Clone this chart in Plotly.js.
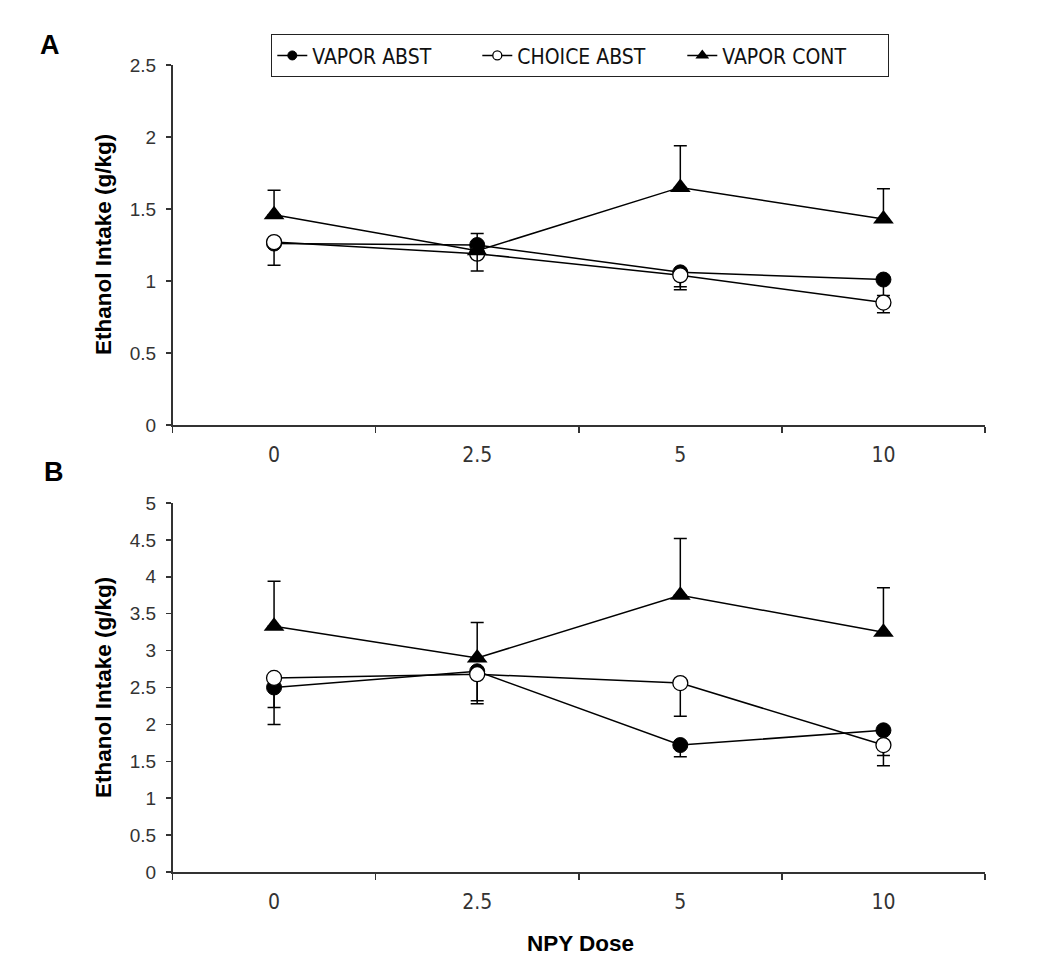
<!DOCTYPE html>
<html>
<head>
<meta charset="utf-8">
<script src="https://cdn.plot.ly/plotly-3.0.1.min.js"></script>
<style>html,body{margin:0;padding:0;background:#fff;}#chart{width:1050px;height:975px;}</style>
</head>
<body>
<div id="chart"></div>
<script>
// ---- data ----
const doses = ['0', '2.5', '5', '10'];
const seriesNames = ['VAPOR ABST', 'CHOICE ABST', 'VAPOR CONT'];

// Panel A
const aVaporAbst = [1.26, 1.25, 1.06, 1.01];
const aVaporAbstErrPlus = [0, 0.08, 0, 0];
const aVaporAbstErrMinus = [0, 0, 0.10, 0.11];
const aChoiceAbst = [1.27, 1.19, 1.04, 0.85];
const aChoiceAbstErrPlus = [0, 0, 0, 0];
const aChoiceAbstErrMinus = [0.16, 0, 0.10, 0.07];
const aVaporCont = [1.46, 1.21, 1.65, 1.43];
const aVaporContErrPlus = [0.17, 0, 0.29, 0.21];
const aVaporContErrMinus = [0, 0.14, 0, 0];

// Panel B
const bVaporAbst = [2.50, 2.72, 1.72, 1.92];
const bVaporAbstErrPlus = [0, 0, 0, 0];
const bVaporAbstErrMinus = [0.50, 0.40, 0.16, 0.34];
const bChoiceAbst = [2.63, 2.68, 2.56, 1.72];
const bChoiceAbstErrPlus = [0, 0, 0, 0];
const bChoiceAbstErrMinus = [0.40, 0.40, 0.45, 0.28];
const bVaporCont = [3.33, 2.90, 3.75, 3.25];
const bVaporContErrPlus = [0.61, 0.48, 0.77, 0.60];
const bVaporContErrMinus = [0, 0, 0, 0];

// ---- styles ----
const BLACK = '#000';
const markerStyles = [
  {symbol: 'circle', size: 15, color: BLACK, line: {color: BLACK, width: 1}},
  {symbol: 'circle', size: 15, color: '#fff', line: {color: BLACK, width: 1.3}},
  {symbol: 'triangle-up', size: 18, color: BLACK, line: {color: BLACK, width: 0}}
];

function series(y, plus, minus, idx, xa, ya) {
  return {
    type: 'scatter', mode: 'lines+markers',
    x: doses, y: y, xaxis: xa, yaxis: ya,
    name: seriesNames[idx], showlegend: false,
    line: {color: BLACK, width: 1.5},
    marker: markerStyles[idx],
    error_y: {type: 'data', symmetric: false, array: plus, arrayminus: minus,
              color: BLACK, thickness: 1.5, width: 6.5},
    cliponaxis: false
  };
}

const traces = [
  series(aVaporAbst, aVaporAbstErrPlus, aVaporAbstErrMinus, 0, 'x', 'y'),
  series(aChoiceAbst, aChoiceAbstErrPlus, aChoiceAbstErrMinus, 1, 'x', 'y'),
  series(aVaporCont, aVaporContErrPlus, aVaporContErrMinus, 2, 'x', 'y'),
  series(bVaporAbst, bVaporAbstErrPlus, bVaporAbstErrMinus, 0, 'x2', 'y2'),
  series(bChoiceAbst, bChoiceAbstErrPlus, bChoiceAbstErrMinus, 1, 'x2', 'y2'),
  series(bVaporCont, bVaporContErrPlus, bVaporContErrMinus, 2, 'x2', 'y2')
];

// legend entries (small symbols like the original key)
const legendSizes = [9, 9, 12];
seriesNames.forEach(function (nm, i) {
  traces.push({
    type: 'scatter', mode: 'lines+markers', x: [null], y: [null],
    xaxis: 'x', yaxis: 'y', name: nm, showlegend: true,
    line: {color: BLACK, width: 1.5},
    marker: Object.assign({}, markerStyles[i], {size: legendSizes[i]})
  });
});

const W = 1050, H = 975;
const xDom = [172.5 / W, 985 / W];
const FONT = 'Liberation Sans, Arial, sans-serif';
const yTickFont = {family: FONT, size: 19, color: '#333'};
const xTickFont = {family: 'DejaVu Sans Condensed, Liberation Sans, Arial, sans-serif', size: 21, color: '#333'};

function xAxis(anchor) {
  return {
    type: 'category', domain: xDom, anchor: anchor, range: [-0.5, 3.5],
    showgrid: false, zeroline: false, showline: true, linecolor: '#333', linewidth: 1.6,
    ticks: 'outside', tickson: 'boundaries', ticklen: 6, tickcolor: '#333', tickwidth: 1.5,
    tickfont: xTickFont, ticklabelstandoff: 10, fixedrange: true
  };
}
function yAxis(anchor, dom, range) {
  return {
    domain: dom, anchor: anchor, range: range, dtick: 0.5, tick0: 0,
    showgrid: false, zeroline: false, showline: true, linecolor: '#333', linewidth: 1.6,
    ticks: 'outside', ticklen: 5, tickcolor: '#333', tickwidth: 1.5,
    tickfont: yTickFont, ticklabelstandoff: 6, fixedrange: true
  };
}

const labelFont = {size: 22.5, family: FONT, color: '#000'};
const layout = {
  width: W, height: H,
  margin: {l: 0, r: 0, t: 0, b: 0},
  paper_bgcolor: '#fff', plot_bgcolor: '#fff',
  font: {family: FONT, color: '#000'},
  xaxis: xAxis('y'),
  yaxis: yAxis('x', [1 - 425 / H, 1 - 65 / H], [0, 2.5]),
  xaxis2: xAxis('y2'),
  yaxis2: yAxis('x2', [1 - 872 / H, 1 - 503 / H], [0, 5]),
  showlegend: true,
  legend: {
    orientation: 'h', x: 271 / W, xanchor: 'left', y: 1 - 34 / H, yanchor: 'top',
    bordercolor: '#222', borderwidth: 1.3, bgcolor: '#fff',
    font: {family: 'DejaVu Sans Condensed, Liberation Sans, Arial, sans-serif', size: 21, color: '#111'},
    entrywidth: 160, entrywidthmode: 'pixels', itemwidth: 30, tracegroupgap: 0
  },
  annotations: [
    {text: '<b>A</b>', xref: 'paper', yref: 'paper', x: 50 / W, y: 1 - 45 / H,
     xanchor: 'center', yanchor: 'middle', showarrow: false, font: {size: 27, family: FONT}},
    {text: '<b>B</b>', xref: 'paper', yref: 'paper', x: 54 / W, y: 1 - 472 / H,
     xanchor: 'center', yanchor: 'middle', showarrow: false, font: {size: 27, family: FONT}},
    {text: '<b>Ethanol Intake (g/kg)</b>', xref: 'paper', yref: 'paper', x: 103 / W, y: 1 - 245 / H,
     xanchor: 'center', yanchor: 'middle', textangle: -90, showarrow: false, font: labelFont},
    {text: '<b>Ethanol Intake (g/kg)</b>', xref: 'paper', yref: 'paper', x: 103 / W, y: 1 - 688 / H,
     xanchor: 'center', yanchor: 'middle', textangle: -90, showarrow: false, font: labelFont},
    {text: '<b>NPY Dose</b>', xref: 'paper', yref: 'paper', x: 580 / W, y: 1 - 943 / H,
     xanchor: 'center', yanchor: 'middle', showarrow: false, font: labelFont}
  ]
};

Plotly.newPlot('chart', traces, layout, {displayModeBar: false, staticPlot: true});
</script>
</body>
</html>
